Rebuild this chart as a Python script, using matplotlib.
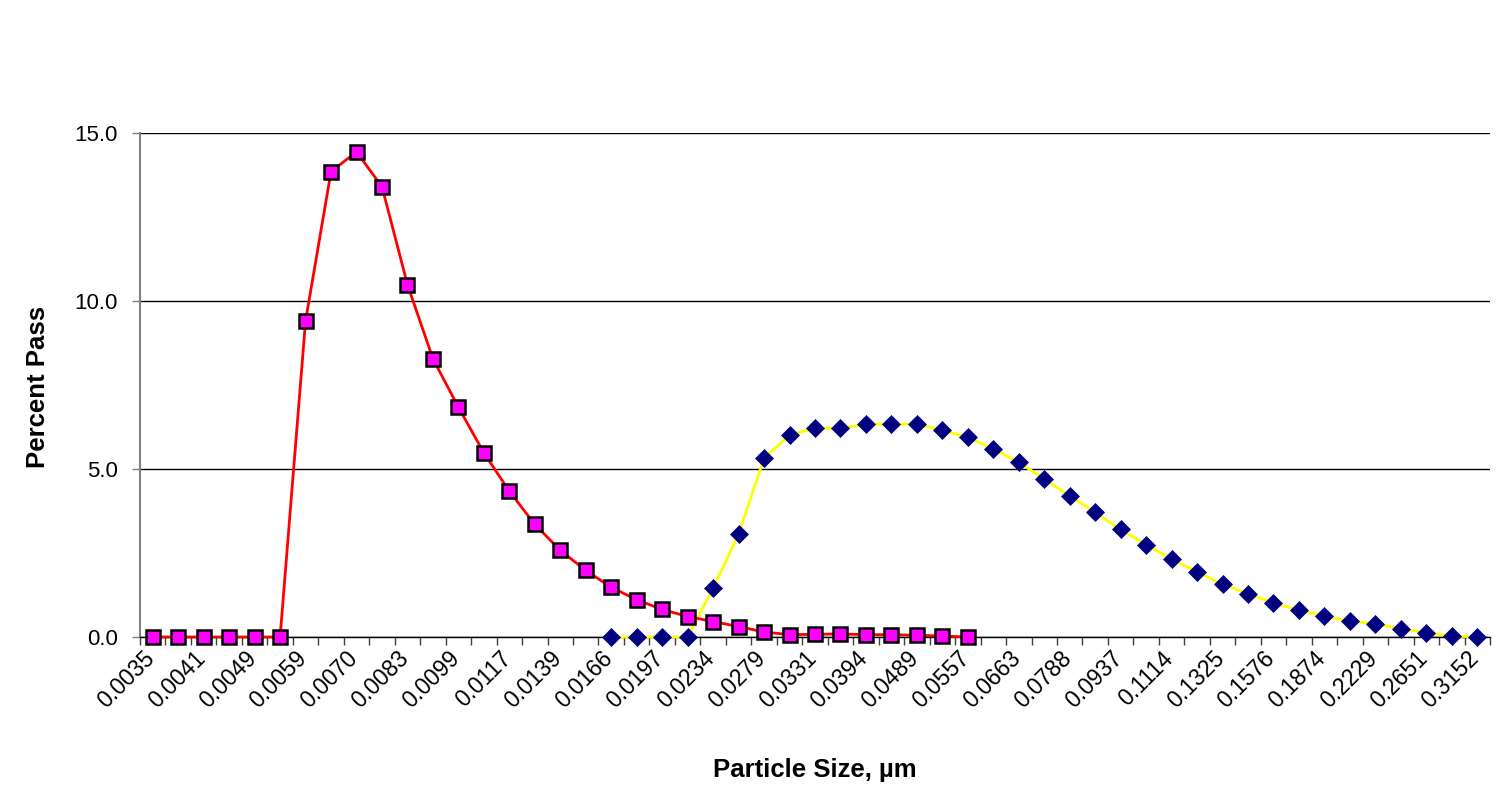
import matplotlib
matplotlib.use('Agg')
import matplotlib.pyplot as plt
import matplotlib.transforms as mtransforms
import numpy as np

plt.rcParams['font.family'] = ['Liberation Sans', 'DejaVu Sans']

# Category labels (every second category is labelled on the axis)
size_labels = ['0.0035', '0.0041', '0.0049', '0.0059', '0.0070', '0.0083', '0.0099',
               '0.0117', '0.0139', '0.0166', '0.0197', '0.0234', '0.0279', '0.0331',
               '0.0394', '0.0489', '0.0557', '0.0663', '0.0788', '0.0937', '0.1114',
               '0.1325', '0.1576', '0.1874', '0.2229', '0.2651', '0.3152']
n_categories = 53

# Series 1 (magenta squares, red line) - categories 0..32
fine_values = [0.0, 0.0, 0.0, 0.0, 0.0, 0.0, 9.41, 13.85, 14.44, 13.40, 10.49, 8.28,
               6.84, 5.48, 4.34, 3.35, 2.58, 1.98, 1.48, 1.11, 0.82, 0.61, 0.46, 0.31,
               0.15, 0.07, 0.08, 0.09, 0.07, 0.07, 0.05, 0.03, 0.0]
fine_start = 0

# Series 2 (navy diamonds, yellow line) - categories 18..52
coarse_values = [0.0, 0.0, 0.0, 0.0, 1.45, 3.06, 5.32, 6.01, 6.21, 6.21, 6.33, 6.33,
                 6.33, 6.16, 5.94, 5.60, 5.20, 4.70, 4.20, 3.71, 3.20, 2.74, 2.32, 1.94,
                 1.57, 1.29, 1.01, 0.80, 0.62, 0.47, 0.39, 0.25, 0.12, 0.03, 0.0]
coarse_start = 18

y_ticks = [0, 5, 10, 15]
y_tick_labels = ['0.0', '5.0', '10.0', '15.0']

fig = plt.figure(figsize=(15.07, 8.08), dpi=100)
ax = fig.add_axes([140 / 1507, 1 - 637 / 808, 1350 / 1507, 504 / 808])

xf = np.arange(fine_start, fine_start + len(fine_values))
xc = np.arange(coarse_start, coarse_start + len(coarse_values))

ax.plot(xc, coarse_values, color='#FFFF00', lw=2.0, marker='D', ms=9.5,
        mfc='#000080', mec='#000080', mew=0.5, clip_on=False, zorder=3)
ax.plot(xf, fine_values, color='#FF0000', lw=2.0, marker='s', ms=10.5,
        mfc='#FF00FF', mec='black', mew=1.8, clip_on=False, zorder=4)

ax.set_xlim(-0.5, n_categories - 0.5)
ax.set_ylim(0, 15)

ax.set_yticks(y_ticks)
ax.set_yticklabels(y_tick_labels, fontsize=16)
ax.tick_params(axis='y', length=6, width=1, color='#808080', pad=10)
ax.yaxis.grid(True, color='black', lw=1)
ax.set_axisbelow(True)

ax.set_xticks(np.arange(-0.5, n_categories, 1.0))
ax.set_xticklabels([])
ax.tick_params(axis='x', which='major', length=6, width=1, color='#404040', direction='out')
ax.set_xticks(np.arange(0, n_categories, 2), minor=True)
ax.set_xticklabels(size_labels, minor=True, fontsize=16.5, rotation=45,
                   ha='right', va='center', rotation_mode='anchor')
ax.tick_params(axis='x', which='minor', length=0, pad=13)
offset = mtransforms.ScaledTranslation(-2 / 100, 0, fig.dpi_scale_trans)
for lbl in ax.get_xticklabels(minor=True):
    lbl.set_transform(lbl.get_transform() + offset)

for s in ['top', 'right']:
    ax.spines[s].set_visible(False)
ax.spines['left'].set_color('#808080')
ax.spines['left'].set_linewidth(1.5)
ax.spines['bottom'].set_color('black')
ax.spines['bottom'].set_linewidth(1)

fig.text(38 / 1507, 1 - 387 / 808, 'Percent Pass', rotation=90, fontsize=18.5,
         fontweight='bold', ha='center', va='center')
fig.text(815 / 1507, 1 - 770 / 808, 'Particle Size, µm', fontsize=18.5,
         fontweight='bold', ha='center', va='center')

fig.savefig('out.png', dpi=100, facecolor='white')
